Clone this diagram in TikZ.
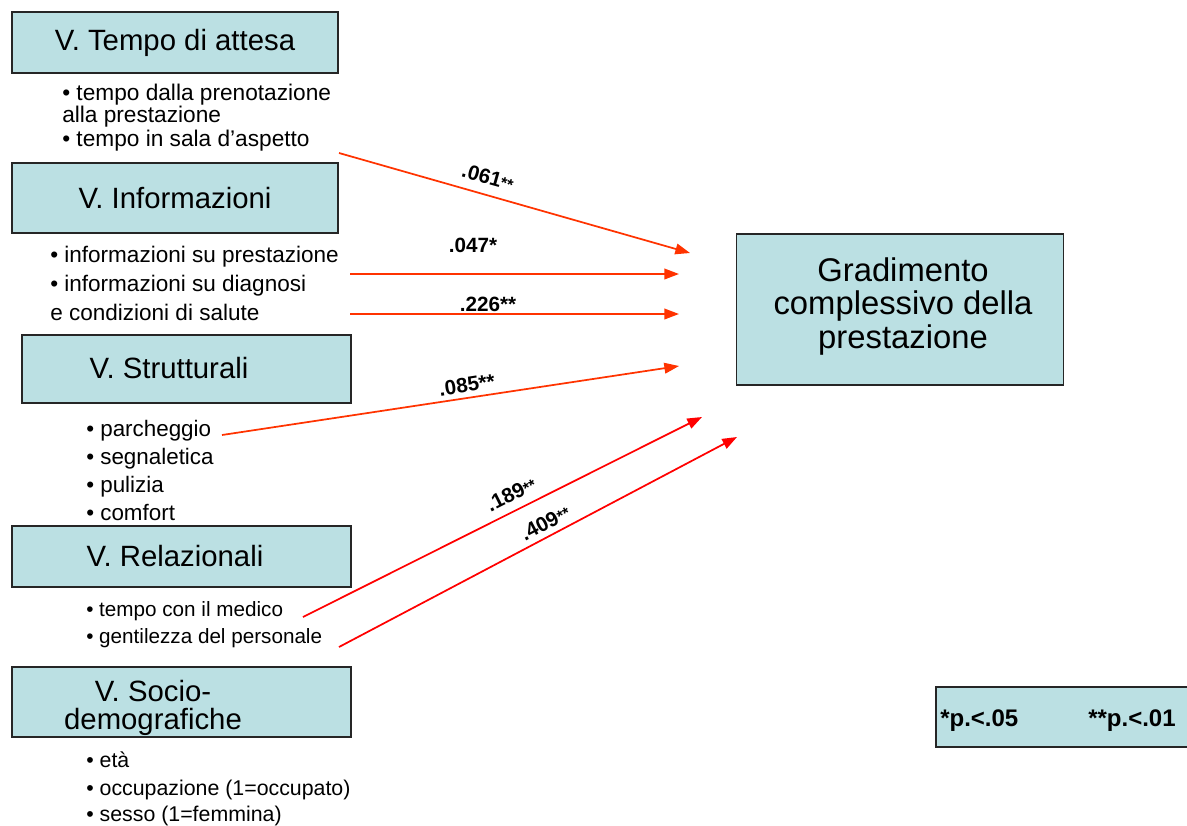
\documentclass[tikz,border=0pt]{standalone}
\usepackage{fontspec}
\setmainfont{Liberation Sans}
\usetikzlibrary{arrows.meta}
\definecolor{boxfill}{RGB}{187,224,227}
\definecolor{arrA}{RGB}{255,51,0}
\definecolor{arrB}{RGB}{255,0,0}
\newcommand{\smallstars}{{\fontsize{12}{12}\selectfont **}}
\begin{document}
\begin{tikzpicture}[x=0.75pt,y=-0.75pt,
  vbox/.style={draw=black!85,line width=1pt,fill=boxfill,inner sep=0pt,
    font=\fontsize{22}{27}\selectfont,align=center},
  ttl/.style={inner sep=0pt,font=\fontsize{22}{27}\selectfont,align=center},
  item/.style={anchor=base west,inner sep=0pt,font=\fontsize{16.9}{20}\selectfont},
  lab/.style={inner sep=0pt,font=\bfseries\fontsize{15.5}{18}\selectfont},
  arr/.style={line width=1.3pt,-{Triangle[length=11pt,width=8pt]}},
  leg/.style={inner sep=0pt,anchor=base west,font=\bfseries\fontsize{18}{22}\selectfont}]
\useasboundingbox (0,0) rectangle (1187,825);

% left boxes
\node[vbox,minimum width=326*0.75pt,minimum height=61*0.75pt] (b1) at (175,42.5) {V. Tempo di attesa};
\node[vbox,minimum width=326*0.75pt,minimum height=70*0.75pt] (b2) at (175,198) {V. Informazioni};
\node[vbox,minimum width=329*0.75pt,minimum height=68*0.75pt] (b3) at (186.5,369) {};
\node[ttl] (b3t) at (169,368) {V. Strutturali};
\node[vbox,minimum width=339*0.75pt,minimum height=61*0.75pt] (b4) at (181.5,556.5) {};
\node[ttl] (b4t) at (175,556) {V. Relazionali};
\node[vbox,minimum width=339*0.75pt,minimum height=70*0.75pt] (b5) at (181.5,702) {};
\node[ttl,font=\fontsize{22}{21}\selectfont] (b5t) at (153,708) {V. Socio-\\demografiche};

% items
\node[item,font=\fontsize{17}{20}\selectfont] (t1) at (62,100) {• tempo dalla prenotazione};
\node[item,font=\fontsize{17}{20}\selectfont] (t2) at (62,122.5) {alla prestazione};
\node[item,font=\fontsize{17}{20}\selectfont] (t3) at (62,146.5) {• tempo in sala d’aspetto};
\node[item] (i1) at (50,262) {• informazioni su prestazione};
\node[item] (i2) at (50,291) {• informazioni su diagnosi};
\node[item] (i3) at (50,320) {e condizioni di salute};
\node[item,font=\fontsize{16.8}{20}\selectfont] (s1) at (86,436) {• parcheggio};
\node[item,font=\fontsize{16.8}{20}\selectfont] (s2) at (86,464) {• segnaletica};
\node[item,font=\fontsize{16.8}{20}\selectfont] (s3) at (86,492) {• pulizia};
\node[item,font=\fontsize{16.8}{20}\selectfont] (s4) at (86,520) {• comfort};
\node[item,font=\fontsize{15.5}{20}\selectfont] (r1) at (86,616) {• tempo con il medico};
\node[item,font=\fontsize{15.5}{20}\selectfont] (r2) at (86,643) {• gentilezza del personale};
\node[item,font=\fontsize{16}{20}\selectfont] (d1) at (86,767) {• età};
\node[item,font=\fontsize{16}{20}\selectfont] (d2) at (86,795) {• occupazione (1=occupato)};
\node[item,font=\fontsize{16}{20}\selectfont] (d3) at (86,821) {• sesso (1=femmina)};

% target
\node[vbox,minimum width=327*0.75pt,minimum height=151*0.75pt] (g) at (900,309.5) {};
\node[ttl,font=\fontsize{24.6}{24.8}\selectfont] (gt) at (903,306.5) {Gradimento\\complessivo della\\prestazione};

% legend
\draw[draw=black!85,line width=1pt,fill=boxfill] (936,687) rectangle (1192,747);
\node[leg] (p1) at (940,726) {*p.<.05};
\node[leg] (p2) at (1088,726) {**p.<.01};

% arrow endpoints
\coordinate (a1s) at (339,153); \coordinate (a1e) at (690,253);
\coordinate (a2s) at (350,274); \coordinate (a2e) at (679,274);
\coordinate (a3s) at (350,314); \coordinate (a3e) at (679,314);
\coordinate (a4s) at (222,435); \coordinate (a4e) at (679,366);
\coordinate (a5s) at (303,617); \coordinate (a5e) at (702,417);
\coordinate (a6s) at (339,647); \coordinate (a6e) at (737,437);

\draw[arr,arrA] (a1s) -- (a1e);
\draw[arr,arrA] (a2s) -- (a2e);
\draw[arr,arrA] (a3s) -- (a3e);
\draw[arr,arrA] (a4s) -- (a4e);
\draw[arr,arrB] (a5s) -- (a5e);
\draw[arr,arrB] (a6s) -- (a6e);

% labels
\node[lab,rotate=-15.6] (l1) at (488,177) {.061\smallstars};
\node[lab] (l2) at (473,245) {.047*};
\node[lab] (l3) at (488,304) {.226**};
\node[lab,rotate=8.6] (l4) at (467,385) {.085**};
\node[lab,rotate=26.6] (l5) at (511,494) {.189\smallstars};
\node[lab,rotate=27.8] (l6) at (545,523) {.409\smallstars};
\end{tikzpicture}
\end{document}
